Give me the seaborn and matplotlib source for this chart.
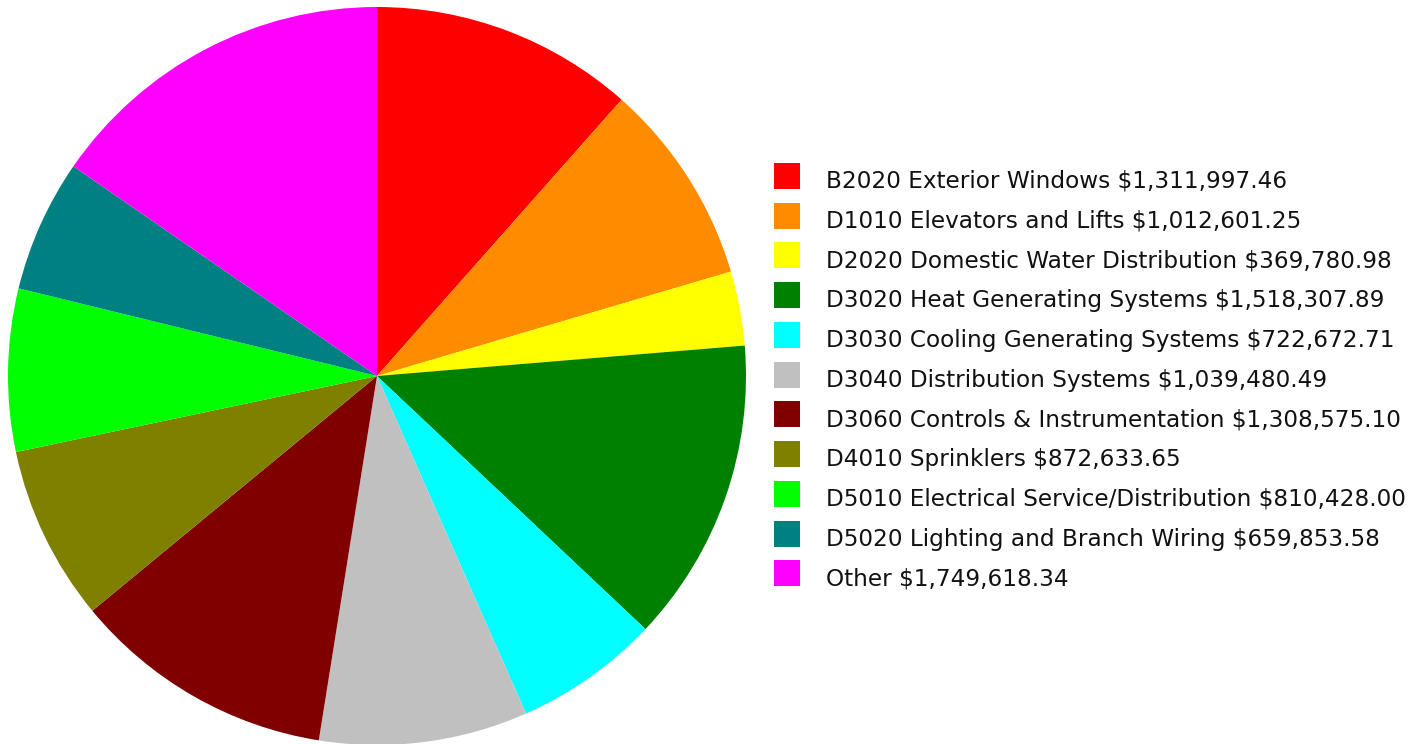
import matplotlib
matplotlib.use("Agg")
import matplotlib.pyplot as plt
import matplotlib.patches as mpatches
from matplotlib.legend_handler import HandlerPatch
import seaborn as sns

categories = [
    "B2020 Exterior Windows",
    "D1010 Elevators and Lifts",
    "D2020 Domestic Water Distribution",
    "D3020 Heat Generating Systems",
    "D3030 Cooling Generating Systems",
    "D3040 Distribution Systems",
    "D3060 Controls & Instrumentation",
    "D4010 Sprinklers",
    "D5010 Electrical Service/Distribution",
    "D5020 Lighting and Branch Wiring",
    "Other",
]
values = [1311997.46, 1012601.25, 369780.98, 1518307.89, 722672.71,
          1039480.49, 1308575.10, 872633.65, 810428.00, 659853.58, 1749618.34]
colors = ["#FF0000", "#FF8C00", "#FFFF00", "#008000", "#00FFFF", "#C0C0C0",
          "#800000", "#808000", "#00FF00", "#008080", "#FF00FF"]

sns.set_theme(style="white")
plt.rcParams['font.family'] = ['DejaVu Sans']

W, H = 1427, 744
fig = plt.figure(figsize=(W / 100, H / 100), dpi=100)
cx, cy, r = 377, 376, 369
ax = fig.add_axes([(cx - r) / W, (H - cy - r) / H, 2 * r / W, 2 * r / H])
wedges, _ = ax.pie(values, colors=colors, startangle=90, counterclock=False,
                   radius=1.0, wedgeprops=dict(linewidth=0))
ax.set_xlim(-1, 1)
ax.set_ylim(-1, 1)
ax.set_aspect("equal")
ax.axis("off")


def raised_square(legend, orig_handle, xdescent, ydescent, width, height, fontsize):
    return mpatches.Rectangle((-xdescent, -ydescent + 3.0), width, height)


labels = [f"{c} ${v:,.2f}" for c, v in zip(categories, values)]
fig.legend(wedges, labels, loc="upper left",
           bbox_to_anchor=(774 / W, (H - 167) / H),
           frameon=False, fontsize=16.7, borderpad=0, borderaxespad=0,
           handlelength=1.12, handleheight=1.348, handletextpad=1.12,
           labelspacing=0.593, labelcolor="#111111",
           handler_map={mpatches.Wedge: HandlerPatch(patch_func=raised_square)})

fig.savefig("out.png", dpi=100, facecolor="white")
